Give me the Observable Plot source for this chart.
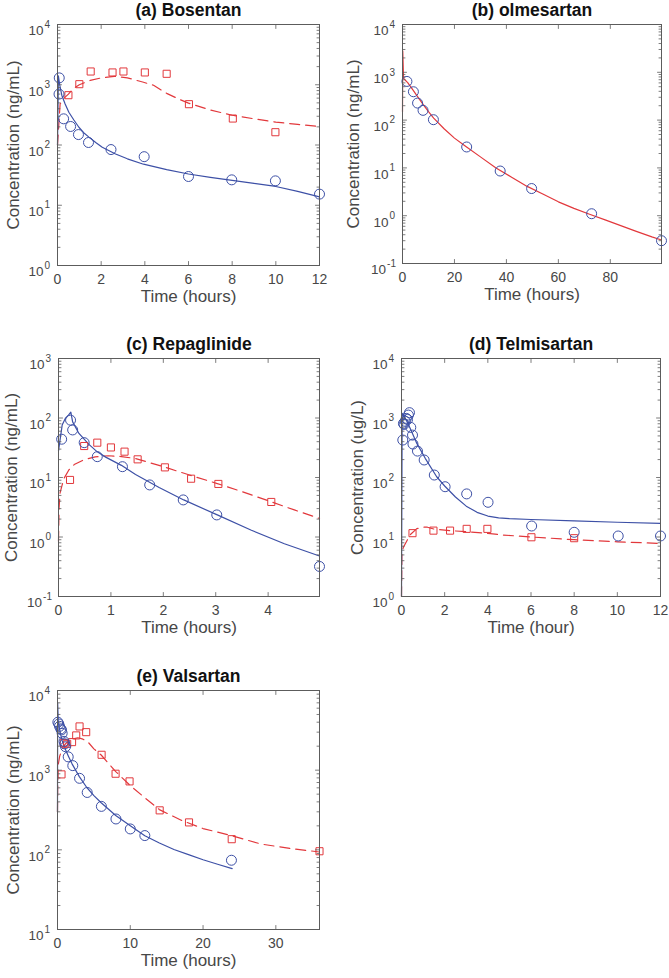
<!DOCTYPE html>
<html><head><meta charset="utf-8">
<script src="https://cdn.jsdelivr.net/npm/d3@7"></script>
<script src="https://cdn.jsdelivr.net/npm/@observablehq/plot@0.6"></script>
<style>
html,body{margin:0;padding:0;background:#fff;}
#wrap{position:relative;width:669px;height:978px;overflow:hidden;background:#fff;}
#wrap svg{position:absolute;overflow:visible;background:transparent;}
</style></head>
<body><div id="wrap"></div>
<script>
// ---------- (a) Bosentan ----------
const aXTicks = [0, 2, 4, 6, 8, 10, 12];
const aYTicks = [1, 10, 100, 1000, 10000];
const aBlueObs = [[0.08,1300],[0.07,700],[0.28,272],[0.6,203],[0.96,149],[1.42,110],[2.45,84],[3.97,64],[6.0,30],[7.98,26.4],[9.98,25.4],[12,15.3]];
const aRedObs = [[0.5,671],[1.0,1022],[1.52,1660],[2.52,1600],[3.02,1660],[4.0,1600],[5.0,1520],[6.02,476],[8.03,275],[9.98,163]];
const aBlueFit = [[0,100],[0.04,1400],[0.1,1000],[0.2,665],[0.35,480],[0.52,350],[0.75,260],[0.98,197],[1.2,160],[1.44,135],[1.75,110],[2.05,92],[2.66,71],[3.2,59],[3.94,48],[5,39],[6,33],[7,29],[8,25.8],[9,23],[10,20.5],[11,17],[12,13.8]];
const aRedFit = [[0,100],[0.12,480],[0.3,600],[0.5,700],[0.75,880],[1.0,1000],[1.5,1180],[2.0,1300],[2.6,1380],[3.2,1300],[3.9,1110],[4.4,980],[5.0,720],[5.5,590],[6.0,495],[7.0,380],[8.0,312],[9.0,272],[10.0,240],[11,220],[12,203]];

// ---------- (b) olmesartan ----------
const bXTicks = [0, 20, 40, 60, 80];
const bYTicks = [0.1, 1, 10, 100, 1000, 10000];
const bBlueObs = [[1.7,644],[4.2,392],[5.8,227],[7.9,160],[11.9,102],[24.7,27.4],[37.6,8.6],[49.7,3.7],[72.8,1.1],[99.7,0.30]];
const bRedFit = [[0,150],[0.1,2800],[0.4,760],[1,690],[2,610],[4,430],[6,300],[8,210],[10,150],[12,110],[16,66],[20,42],[24,29],[30,17],[36,10.0],[42,6.4],[48,4.1],[54,2.85],[60,1.95],[66,1.42],[72,1.07],[78,0.82],[84,0.62],[90,0.47],[96,0.36],[99.7,0.31]];

// ---------- (c) Repaglinide ----------
const cXTicks = [0, 1, 2, 3, 4];
const cYTicks = [0.1, 1, 10, 100, 1000];
const cBlueObs = [[0.06,44],[0.23,92],[0.27,63],[0.49,38.5],[0.74,22.4],[1.22,15.2],[1.74,7.5],[2.38,4.2],[3.02,2.35],[4.98,0.32]];
const cRedObs = [[0.22,9.1],[0.49,33.8],[0.74,38.5],[1.0,32],[1.26,27.2],[1.51,20.2],[2.03,14.8],[2.53,9.55],[3.05,7.8],[4.06,3.88]];
const cBlueFit = [[0,28],[0.07,76],[0.13,98],[0.19,112],[0.235,125],[0.27,86],[0.39,55],[0.58,36],[0.74,27],[0.9,22],[1.2,16],[1.47,11.2],[1.92,6.8],[2.39,4.2],[3.03,2.35],[3.67,1.31],[4.31,0.77],[4.98,0.48]];
const cRedFit = [[0,0.85],[0.01,3],[0.03,5.5],[0.1,9.5],[0.2,13.5],[0.3,16.5],[0.48,19.8],[0.7,22.2],[0.95,23.2],[1.2,22.5],[1.47,20.8],[2.0,15.2],[2.5,11.0],[3.03,7.9],[3.5,5.8],[4.06,3.9],[4.5,2.85],[4.98,2.05]];

// ---------- (d) Telmisartan ----------
const dXTicks = [0, 2, 4, 6, 8, 10, 12];
const dYTicks = [1, 10, 100, 1000, 10000];
const dBlueObs = [[0.06,426],[0.09,810],[0.12,780],[0.17,880],[0.22,985],[0.28,946],[0.32,1120],[0.37,1230],[0.43,695],[0.51,516],[0.53,365],[0.74,278],[1.05,197],[1.52,110],[2.02,70],[3.02,53],[4.01,38.3],[6.03,15.3],[8.0,12.0],[10.04,10.4],[12,10.4]];
const dRedObs = [[0.51,11.6],[1.48,12.8],[2.25,12.8],[3.02,13.7],[3.98,13.7],[6.02,9.9],[8.0,9.55]];
const dBlueFit = [[0,1],[0.03,1200],[0.1,1100],[0.2,950],[0.4,670],[0.6,460],[0.71,374],[1.1,210],[1.63,103],[2.0,72],[2.5,47],[3.0,33],[3.5,26],[4.0,22.5],[4.5,21],[5,20.3],[6,19.7],[8,18.6],[10,17.7],[12,17]];
const dRedFit = [[0,1],[0.02,5.5],[0.08,6.6],[0.17,7.6],[0.39,10.8],[0.71,13.8],[1.0,14.6],[1.2,14.6],[1.5,13.6],[2.25,12.8],[3.0,12.3],[4.0,11.5],[4.7,10.8],[6.2,9.9],[8,9.0],[10,8.3],[12,7.8]];

// ---------- (e) Valsartan ----------
const eXTicks = [0, 10, 20, 30];
const eYTicks = [10, 100, 1000, 10000];
const eBlueObs = [[0.05,4000],[0.18,3800],[0.28,3550],[0.45,3300],[0.55,3200],[0.64,2900],[0.9,2300],[1.0,2140],[1.1,1970],[1.47,1470],[2.1,1140],[3.03,790],[4.08,525],[6.03,351],[8.03,244],[10.0,183],[12.0,151],[23.9,74]];
const eRedObs = [[0.55,885],[0.87,2190],[1.33,2140],[2.0,2250],[2.57,2730],[3.03,3540],[3.94,3000],[6.06,1560],[7.98,902],[9.9,723],[14.04,313],[18.07,221],[23.94,136],[36,96]];
const eBlueFit = [[0,300],[0.02,7000],[0.1,4200],[0.3,3200],[0.6,2400],[1,1900],[1.5,1500],[2,1200],[3,830],[4,610],[5,480],[6,390],[8,270],[10,200],[12,150],[14,122],[16,101],[18,87],[20,75],[22,66],[24,58]];
const eRedFit = [[0,300],[0.05,1100],[0.3,1500],[0.7,1900],[1.2,2200],[2,2450],[2.8,2550],[3.5,2450],[4.2,2250],[5,1850],[6,1550],[8,960],[10,640],[12,450],[14,320],[17,235],[20,185],[24,150],[28,118],[32,104],[36,94]];

// ---------- styling ----------
const BLUE = "#3d50a6", RED = "#e2383c", AX = "#5c5c5c", TXT = "#474747";
const FONT = "'Liberation Sans', Arial, Helvetica, sans-serif";
const tickShape = {draw(ctx, l) { ctx.moveTo(0, 0); ctx.lineTo(0, -l); }};
const ex = d => Math.round(Math.log10(d));

function minorTicks(major) {
  const out = [];
  for (let i = 0; i < major.length - 1; i++) for (let k = 2; k <= 9; k++) out.push(major[i] * k);
  return out;
}

function panel(cfg) {
  const {left, top, ml, mt, fw, fh, mr, mb, xDomain, yDomain, xTicks, yTicks,
         blueObs, redObs, blueFit, redFit, redSolid, title, yLabel, xLabel, yLabelOff} = cfg;
  const tk = (data, o) => Plot.vector(data, {...o, anchor: "start", shape: tickShape, stroke: AX, strokeWidth: 0.8});
  const ym = minorTicks(yTicks);
  const yPos = yTicks.filter(d => ex(d) >= 0), yNeg = yTicks.filter(d => ex(d) < 0);
  const marks = [];
  if (redFit) marks.push(Plot.line(redFit, {x: d => d[0], y: d => d[1], stroke: RED, strokeWidth: 1.2,
                          strokeDasharray: redSolid ? null : "10,6"}));
  if (blueFit) marks.push(Plot.line(blueFit, {x: d => d[0], y: d => d[1], stroke: BLUE, strokeWidth: 1.2}));
  if (redObs) marks.push(Plot.dot(redObs, {x: d => d[0], y: d => d[1], symbol: "square", r: 4, stroke: RED, fill: "none", strokeWidth: 1}));
  if (blueObs) marks.push(Plot.dot(blueObs, {x: d => d[0], y: d => d[1], r: 5, stroke: BLUE, fill: "none", strokeWidth: 1}));
  marks.push(
    Plot.frame({stroke: AX, strokeWidth: 1}),
    tk(xTicks, {x: d => d, frameAnchor: "bottom", rotate: 0, length: 4}),
    tk(xTicks, {x: d => d, frameAnchor: "top", rotate: 180, length: 4}),
    tk(yTicks, {y: d => d, frameAnchor: "left", rotate: 90, length: 4}),
    tk(yTicks, {y: d => d, frameAnchor: "right", rotate: -90, length: 4}),
    tk(ym, {y: d => d, frameAnchor: "left", rotate: 90, length: 2.5}),
    tk(ym, {y: d => d, frameAnchor: "right", rotate: -90, length: 2.5}),
    Plot.text(xTicks, {x: d => d, frameAnchor: "bottom", dy: 14.5, text: d => String(d), textAnchor: "middle", lineAnchor: "middle", fontSize: 14, fill: TXT}),
    Plot.text(yPos, {y: d => d, frameAnchor: "left", dx: -7.5, text: d => String(ex(d)), textAnchor: "end", lineAnchor: "middle", fontSize: 10, fill: TXT}),
    Plot.text(yPos, {y: d => d, frameAnchor: "left", dx: -14, dy: 6.5, text: () => "10", textAnchor: "end", lineAnchor: "middle", fontSize: 13.5, fill: TXT}),
    Plot.text(yNeg, {y: d => d, frameAnchor: "left", dx: -6.5, text: d => String(ex(d)), textAnchor: "end", lineAnchor: "middle", fontSize: 10, fill: TXT}),
    Plot.text(yNeg, {y: d => d, frameAnchor: "left", dx: -16.5, dy: 6.5, text: () => "10", textAnchor: "end", lineAnchor: "middle", fontSize: 13.5, fill: TXT}),
    Plot.text([yLabel], {frameAnchor: "left", dx: -yLabelOff, rotate: -90, text: d => d, textAnchor: "middle", lineAnchor: "middle", fontSize: 17, fill: TXT}),
    Plot.text([xLabel], {frameAnchor: "bottom", dy: 31, text: d => d, textAnchor: "middle", lineAnchor: "middle", fontSize: 17, fill: TXT}),
    Plot.text([title], {frameAnchor: "top", dy: -14, text: d => d, textAnchor: "middle", lineAnchor: "middle", fontSize: 17.5, fontWeight: "bold", fill: "#111"})
  );
  const svg = Plot.plot({
    width: ml + fw + mr, height: mt + fh + mb,
    marginLeft: ml, marginTop: mt, marginRight: mr, marginBottom: mb,
    x: {domain: xDomain, axis: null},
    y: {type: "log", domain: yDomain, axis: null},
    style: {fontFamily: FONT, background: "transparent", overflow: "visible"},
    marks
  });
  svg.style.left = left + "px";
  svg.style.top = top + "px";
  document.getElementById("wrap").appendChild(svg);
}

panel({left: 0, top: 0, ml: 57, mt: 24, fw: 262, fh: 241, mr: 12, mb: 55,
  xDomain: [0, 12], yDomain: [1, 10000], xTicks: aXTicks, yTicks: aYTicks,
  blueObs: aBlueObs, redObs: aRedObs, blueFit: aBlueFit, redFit: aRedFit,
  title: "(a) Bosentan", yLabel: "Concentration (ng/mL)", xLabel: "Time (hours)", yLabelOff: 44});

panel({left: 335, top: 0, ml: 67, mt: 24, fw: 259, fh: 239, mr: 7, mb: 57,
  xDomain: [0, 99.7], yDomain: [0.1, 10000], xTicks: bXTicks, yTicks: bYTicks,
  blueObs: bBlueObs, redFit: bRedFit, redSolid: true,
  title: "(b) olmesartan", yLabel: "Concentration (ng/mL)", xLabel: "Time (hours)", yLabelOff: 48.5});

panel({left: 0, top: 320, ml: 58, mt: 38, fw: 261, fh: 238, mr: 12, mb: 44,
  xDomain: [0, 4.98], yDomain: [0.1, 1000], xTicks: cXTicks, yTicks: cYTicks,
  blueObs: cBlueObs, redObs: cRedObs, blueFit: cBlueFit, redFit: cRedFit,
  title: "(c) Repaglinide", yLabel: "Concentration (ng/mL)", xLabel: "Time (hours)", yLabelOff: 46.5});

panel({left: 335, top: 320, ml: 66, mt: 38, fw: 259, fh: 238, mr: 8, mb: 44,
  xDomain: [0, 12], yDomain: [1, 10000], xTicks: dXTicks, yTicks: dYTicks,
  blueObs: dBlueObs, redObs: dRedObs, blueFit: dBlueFit, redFit: dRedFit,
  title: "(d) Telmisartan", yLabel: "Concentration (ug/L)", xLabel: "Time (hour)", yLabelOff: 44});

panel({left: 0, top: 640, ml: 57, mt: 50, fw: 262, fh: 239, mr: 12, mb: 49,
  xDomain: [0, 36], yDomain: [10, 10000], xTicks: eXTicks, yTicks: eYTicks,
  blueObs: eBlueObs, redObs: eRedObs, blueFit: eBlueFit, redFit: eRedFit,
  title: "(e) Valsartan", yLabel: "Concentration (ng/mL)", xLabel: "Time (hours)", yLabelOff: 44});
</script>
</body></html>
